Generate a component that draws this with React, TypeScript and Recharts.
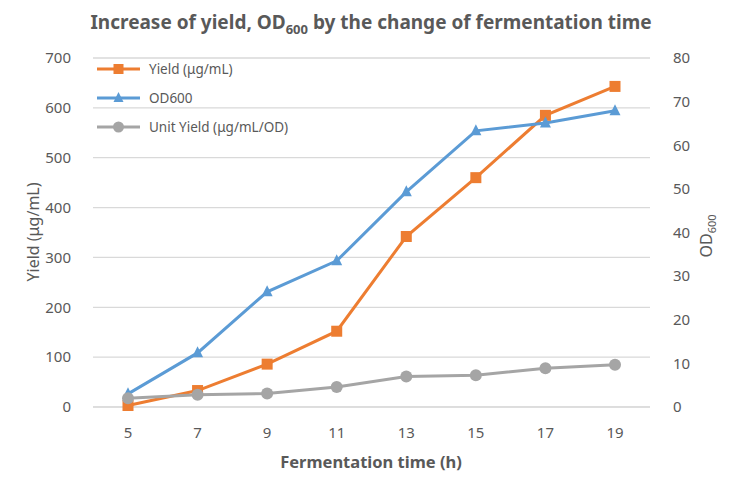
import { CartesianGrid, Legend, Line, LineChart, XAxis, YAxis } from 'recharts';

const TIMES = ['5', '7', '9', '11', '13', '15', '17', '19'];
const YIELD = [3, 33, 86, 152, 342, 460, 585, 643];
const OD600 = [3.0, 12.4, 26.4, 33.5, 49.3, 63.3, 65.1, 67.9];
const UNIT_YIELD = [2.0, 2.8, 3.1, 4.6, 7.0, 7.3, 8.9, 9.7];
const LEFT_TICKS = [0, 100, 200, 300, 400, 500, 600, 700];
const RIGHT_TICKS = [0, 10, 20, 30, 40, 50, 60, 70, 80];

const ORANGE = '#ED7D31';
const BLUE = '#5B9BD5';
const GRAY = '#A5A5A5';
const TEXT = '#595959';
const FONT = '"Noto Sans", "Open Sans", sans-serif';

const data = TIMES.map((t, i) => ({
  time: t,
  yield: YIELD[i],
  od: OD600[i],
  unit: UNIT_YIELD[i],
}));

const SERIES = [
  { name: 'Yield (μg/mL)', color: ORANGE, shape: 'square' },
  { name: 'OD600', color: BLUE, shape: 'triangle' },
  { name: 'Unit Yield (μg/mL/OD)', color: GRAY, shape: 'circle' },
];

function Marker({ shape, cx, cy, color, size = 11 }: { shape: string; cx: number; cy: number; color: string; size?: number }) {
  if (shape === 'square') {
    return <rect x={cx - size / 2} y={cy - size / 2} width={size} height={size} fill={color} />;
  }
  if (shape === 'triangle') {
    const h = size;
    return (
      <polygon
        points={`${cx},${cy - h * 0.6} ${cx - h / 2},${cy + h * 0.4} ${cx + h / 2},${cy + h * 0.4}`}
        fill={color}
      />
    );
  }
  return <circle cx={cx} cy={cy} r={size / 2 + 0.5} fill={color} />;
}

function dotFor(shape: string, color: string) {
  return (props: any) => {
    const { cx, cy, index } = props;
    if (cx == null || cy == null) return <g key={index} />;
    return <Marker key={index} shape={shape} cx={cx} cy={cy} color={color} />;
  };
}

function LegendBox() {
  return (
    <div style={{ fontFamily: FONT, fontSize: 13.5, color: TEXT }}>
      {SERIES.map((s) => (
        <div key={s.name} style={{ display: 'flex', alignItems: 'center', height: 29 }}>
          <svg width={50} height={14} style={{ marginRight: 4 }}>
            <line x1={2} x2={45} y1={7} y2={7} stroke={s.color} strokeWidth={3} />
            <Marker shape={s.shape} cx={23.5} cy={7} color={s.color} size={10} />
          </svg>
          <span>{s.name}</span>
        </div>
      ))}
    </div>
  );
}

export default function App() {
  return (
    <div style={{ position: 'fixed', left: 0, top: 0, width: 729, height: 494, background: '#fff' }}>
      <LineChart
        width={729}
        height={494}
        data={data}
        margin={{ top: 58, right: 0, left: 0, bottom: 45 }}
      >
        <CartesianGrid stroke="#D9D9D9" strokeWidth={1.3} vertical={false} yAxisId="left" />
        <XAxis
          dataKey="time"
          height={42}
          padding={{ left: 35, right: 35 }}
          axisLine={{ stroke: '#D9D9D9' }}
          tickLine={false}
          tick={{ fill: TEXT, fontSize: 15, fontFamily: FONT }}
          tickMargin={14}
        />
        <YAxis
          yAxisId="left"
          width={93}
          domain={[0, 700]}
          ticks={LEFT_TICKS}
          axisLine={false}
          tickLine={false}
          tick={{ fill: TEXT, fontSize: 15, fontFamily: FONT }}
          tickMargin={16}
        />
        <YAxis
          yAxisId="right"
          orientation="right"
          width={79}
          domain={[0, 80]}
          ticks={RIGHT_TICKS}
          axisLine={false}
          tickLine={false}
          tick={{ fill: TEXT, fontSize: 15, fontFamily: FONT, textAnchor: 'start' }}
          tickMargin={17}
        />
        <Legend
          layout="vertical"
          verticalAlign="middle"
          align="center"
          content={<LegendBox />}
          wrapperStyle={{ left: 95, top: 54, width: 260 }}
        />
        <Line
          yAxisId="left"
          dataKey="yield"
          name="Yield (μg/mL)"
          stroke={ORANGE}
          strokeWidth={3}
          dot={dotFor('square', ORANGE)}
          isAnimationActive={false}
        />
        <Line
          yAxisId="right"
          dataKey="od"
          name="OD600"
          stroke={BLUE}
          strokeWidth={3}
          dot={dotFor('triangle', BLUE)}
          isAnimationActive={false}
        />
        <Line
          yAxisId="right"
          dataKey="unit"
          name="Unit Yield (μg/mL/OD)"
          stroke={GRAY}
          strokeWidth={3}
          dot={dotFor('circle', GRAY)}
          isAnimationActive={false}
        />
      </LineChart>
      <svg
        width={729}
        height={494}
        style={{ position: 'absolute', left: 0, top: 0, pointerEvents: 'none' }}
        fontFamily={FONT}
        fill={TEXT}
      >
        <text x={371} y={29} textAnchor="middle" fontSize={19} fontWeight="bold">
          Increase of yield, OD
          <tspan fontSize={13} dy={5}>600</tspan>
          <tspan dy={-5}> by the change of fermentation time</tspan>
        </text>
        <text x={371} y={468} textAnchor="middle" fontSize={16.5} fontWeight="bold">
          Fermentation time (h)
        </text>
        <text
          transform="translate(39,232) rotate(-90)"
          textAnchor="middle"
          fontSize={16}
        >
          Yield (μg/mL)
        </text>
        <text
          transform="translate(712,236) rotate(-90)"
          textAnchor="middle"
          fontSize={16}
        >
          OD<tspan fontSize={11} dy={4}>600</tspan>
        </text>
      </svg>
    </div>
  );
}
